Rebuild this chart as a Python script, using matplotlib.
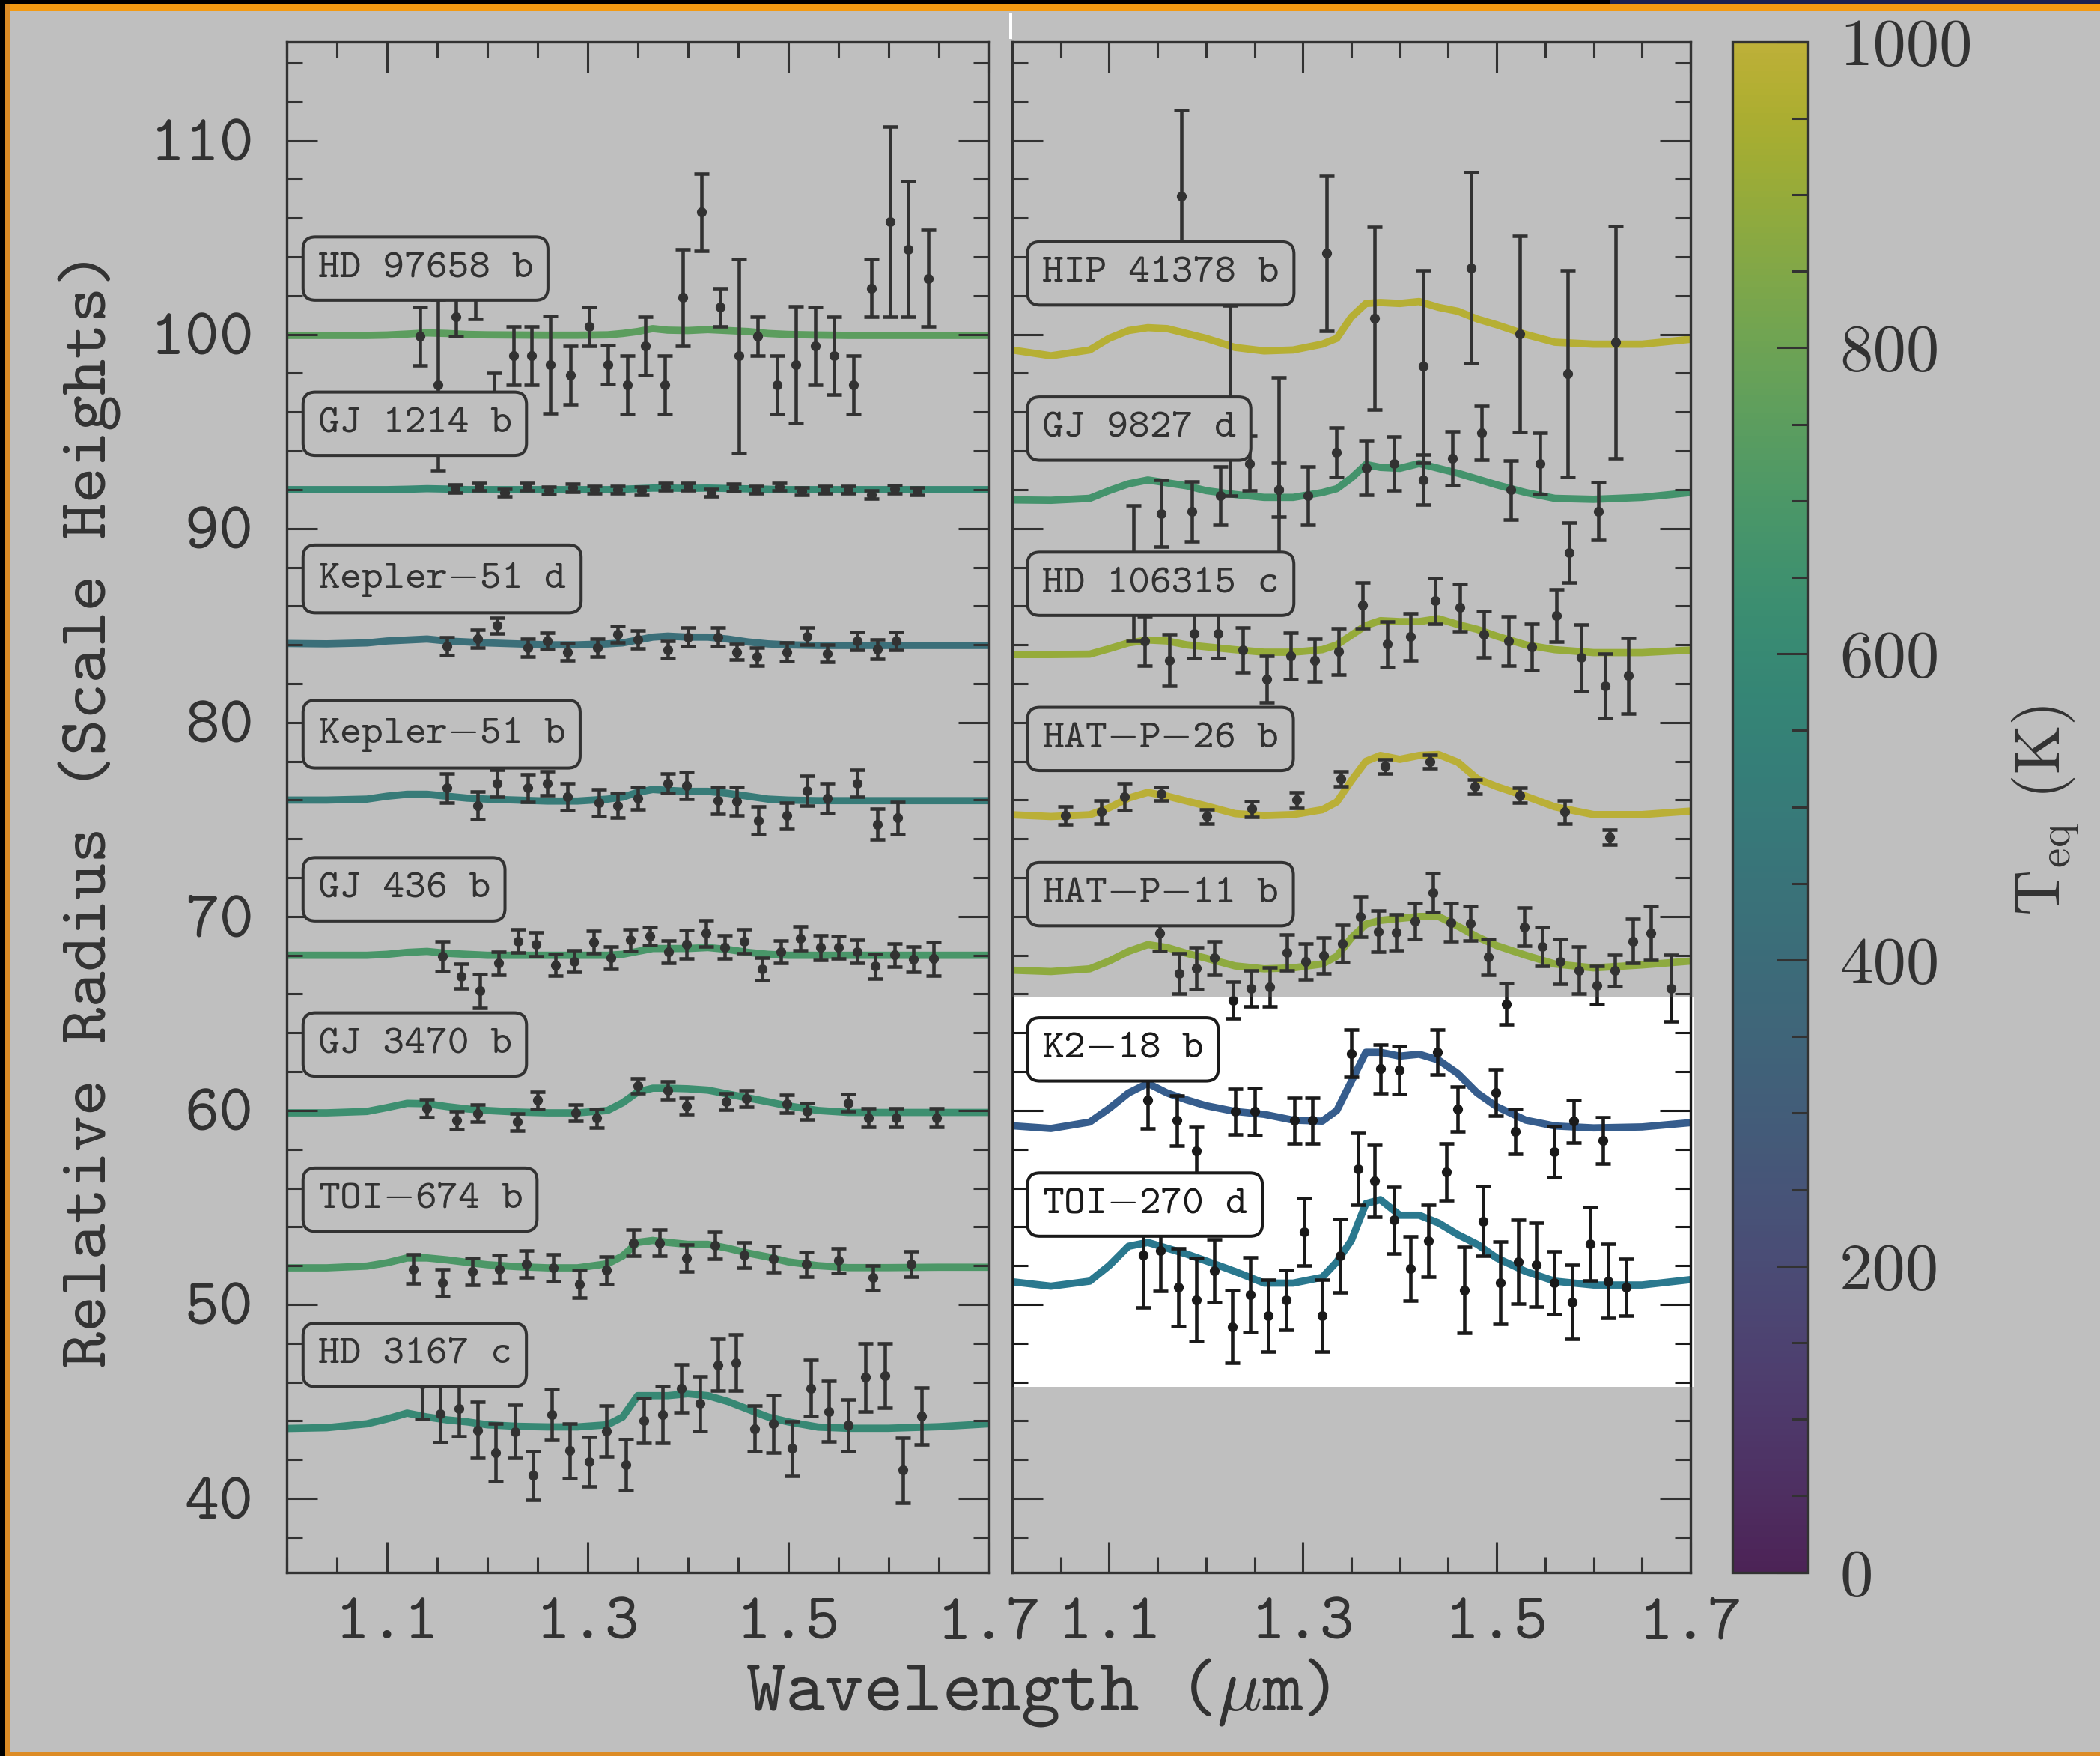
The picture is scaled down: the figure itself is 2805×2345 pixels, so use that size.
import matplotlib
matplotlib.use("Agg")
import matplotlib.pyplot as plt
from matplotlib.patches import Rectangle
from matplotlib.colors import Normalize
from matplotlib.ticker import MultipleLocator, FixedLocator, FormatStrFormatter

# ---------------------------------------------------------------- data
# common wavelength grid (micron) of the model transmission spectra
MODEL_WL = [1.00, 1.04, 1.08, 1.10, 1.12, 1.14, 1.16, 1.18, 1.20, 1.23, 1.26, 1.29,
            1.32, 1.335, 1.35, 1.365, 1.38, 1.40, 1.42, 1.44, 1.46, 1.48, 1.50,
            1.53, 1.56, 1.60, 1.65, 1.70]

# left column ---------------------------------------------------------
HD97658_MODEL = [99.95, 99.95, 99.95, 99.97, 100.02, 100.08, 100.05, 100.0, 99.98, 99.97,
                 99.96, 99.96, 99.98, 100.05, 100.15, 100.3, 100.22, 100.2, 100.25, 100.2,
                 100.15, 100.05, 100.0, 99.97, 99.95, 99.95, 99.95, 99.95]
HD97658_WL = [1.133, 1.151, 1.169, 1.188, 1.207, 1.226, 1.244, 1.263, 1.283, 1.302, 1.320,
              1.340, 1.358, 1.377, 1.395, 1.414, 1.432, 1.451, 1.470, 1.489, 1.508, 1.527,
              1.546, 1.565, 1.583, 1.602, 1.620, 1.640]
HD97658_R = [99.9, 97.4, 100.9, 102.3, 96.5, 98.9, 98.9, 98.45, 97.9, 100.4, 98.45, 97.4,
             99.4, 97.4, 101.9, 106.3, 101.4, 98.9, 99.9, 97.4, 98.45, 99.4, 98.9, 97.4,
             102.4, 105.8, 104.4, 102.9]
HD97658_ERR = [1.5, 4.4, 1.0, 1.5, 1.5, 1.5, 1.5, 2.5, 1.5, 1.0, 1.0, 1.5, 1.5, 1.5, 2.5,
               2.0, 1.0, 5.0, 1.0, 1.5, 3.0, 2.0, 2.0, 1.5, 1.5, 4.9, 3.5, 2.5]

GJ1214_MODEL = [92.0, 92.0, 92.0, 92.0, 92.02, 92.05, 92.03, 92.0, 92.0, 92.0, 92.0, 92.0,
                92.0, 92.02, 92.05, 92.08, 92.08, 92.07, 92.08, 92.06, 92.04, 92.02, 92.0,
                92.0, 92.0, 92.0, 92.0, 92.0]
GJ1214_WL = [1.168, 1.192, 1.217, 1.240, 1.261, 1.285, 1.307, 1.330, 1.354, 1.378, 1.400,
             1.423, 1.446, 1.468, 1.491, 1.514, 1.537, 1.560, 1.583, 1.606, 1.629]
GJ1214_R = [92.06, 92.16, 91.84, 92.16, 91.97, 92.1, 92.0, 92.0, 91.94, 92.16, 92.16, 91.84,
            92.12, 92.0, 92.16, 91.91, 92.0, 92.0, 91.74, 92.02, 91.91]
GJ1214_ERR = [0.2, 0.2, 0.2, 0.2, 0.2, 0.2, 0.2, 0.2, 0.2, 0.2, 0.2, 0.2, 0.2, 0.2, 0.2,
              0.2, 0.2, 0.2, 0.2, 0.2, 0.2]

KEP51D_MODEL = [84.07, 84.05, 84.1, 84.2, 84.25, 84.3, 84.2, 84.15, 84.1, 84.05, 84.0, 84.0,
                84.05, 84.1, 84.25, 84.4, 84.45, 84.4, 84.4, 84.3, 84.15, 84.05, 84.0, 83.97,
                83.97, 83.97, 83.97, 83.97]
KEP51D_WL = [1.160, 1.1905, 1.2096, 1.2405, 1.2595, 1.280, 1.310, 1.330, 1.350, 1.380, 1.400,
             1.430, 1.449, 1.469, 1.499, 1.519, 1.539, 1.569, 1.589, 1.608]
KEP51D_R = [83.94, 84.32, 85.0, 83.85, 84.2, 83.64, 83.85, 84.54, 84.28, 83.75, 84.41, 84.41,
            83.64, 83.39, 83.64, 84.45, 83.55, 84.2, 83.77, 84.2]
KEP51D_ERR = [0.46, 0.45, 0.4, 0.47, 0.44, 0.45, 0.46, 0.42, 0.46, 0.45, 0.47, 0.49, 0.42,
              0.47, 0.48, 0.44, 0.45, 0.47, 0.5, 0.47]

KEP51B_MODEL = [76.0, 76.0, 76.05, 76.2, 76.3, 76.3, 76.2, 76.1, 76.05, 76.0, 75.95, 75.95,
                76.05, 76.15, 76.4, 76.55, 76.5, 76.45, 76.45, 76.35, 76.2, 76.05, 76.0,
                75.97, 75.97, 75.97, 75.97, 75.97]
KEP51B_WL = [1.160, 1.1905, 1.210, 1.2405, 1.2595, 1.280, 1.311, 1.330, 1.350, 1.380, 1.399,
             1.430, 1.449, 1.4704, 1.499, 1.5187, 1.5393, 1.569, 1.5893, 1.609]
KEP51B_R = [76.62, 75.72, 76.87, 76.62, 76.87, 76.17, 75.85, 75.72, 76.1, 76.87, 76.74, 75.97,
            75.94, 74.95, 75.2, 76.49, 76.1, 76.87, 74.76, 75.08]
KEP51B_ERR = [0.74, 0.71, 0.71, 0.71, 0.62, 0.71, 0.69, 0.64, 0.59, 0.51, 0.69, 0.69, 0.72,
              0.71, 0.67, 0.77, 0.78, 0.71, 0.78, 0.82]

GJ436_MODEL = [68.0, 68.0, 68.0, 68.05, 68.15, 68.2, 68.1, 68.05, 68.0, 68.0, 68.0, 68.0,
               68.0, 68.05, 68.2, 68.35, 68.35, 68.35, 68.4, 68.3, 68.15, 68.05, 68.0, 68.0,
               68.0, 68.0, 68.0, 68.0]
GJ436_WL = [1.155, 1.174, 1.193, 1.211, 1.231, 1.249, 1.268, 1.287, 1.306, 1.323, 1.343,
            1.362, 1.381, 1.399, 1.418, 1.437, 1.456, 1.474, 1.493, 1.512, 1.532, 1.550,
            1.569, 1.587, 1.606, 1.625, 1.645]
GJ436_R = [67.95, 66.92, 66.17, 67.59, 68.74, 68.56, 67.5, 67.69, 68.69, 67.88, 68.78, 69.0,
           68.18, 68.56, 69.13, 68.43, 68.72, 67.3, 68.18, 68.87, 68.4, 68.4, 68.2, 67.43,
           68.01, 67.79, 67.82]
GJ436_ERR = [0.78, 0.63, 0.87, 0.6, 0.58, 0.61, 0.56, 0.56, 0.57, 0.58, 0.57, 0.47, 0.59,
             0.74, 0.69, 0.61, 0.61, 0.58, 0.59, 0.61, 0.64, 0.58, 0.6, 0.62, 0.59, 0.67,
             0.87]

GJ3470_MODEL = [59.88, 59.88, 59.95, 60.15, 60.37, 60.35, 60.2, 60.08, 60.0, 59.92, 59.88,
                59.88, 60.0, 60.4, 60.95, 61.15, 61.15, 61.12, 61.05, 60.85, 60.65, 60.45,
                60.24, 60.0, 59.9, 59.9, 59.9, 59.9]
GJ3470_WL = [1.1396, 1.1696, 1.1905, 1.230, 1.250, 1.288, 1.309, 1.350, 1.380, 1.399, 1.4385,
             1.4584, 1.499, 1.5187, 1.5597, 1.580, 1.608, 1.648]
GJ3470_R = [60.11, 59.5, 59.85, 59.4, 60.52, 59.88, 59.6, 61.27, 61.04, 60.24, 60.47, 60.62,
            60.34, 59.96, 60.39, 59.63, 59.63, 59.63]
GJ3470_ERR = [0.47, 0.47, 0.45, 0.46, 0.45, 0.43, 0.48, 0.4, 0.45, 0.43, 0.43, 0.43, 0.45,
              0.42, 0.45, 0.48, 0.48, 0.48]

TOI674_MODEL = [51.89, 51.89, 51.98, 52.15, 52.4, 52.4, 52.3, 52.17, 52.05, 51.95, 51.89,
                51.89, 52.1, 52.5, 53.2, 53.3, 53.2, 53.1, 53.1, 52.9, 52.65, 52.45, 52.2,
                52.0, 51.9, 51.9, 51.92, 51.92]
TOI674_WL = [1.1263, 1.1552, 1.1848, 1.212, 1.2386, 1.2657, 1.292, 1.319, 1.3455, 1.3718,
             1.399, 1.4268, 1.456, 1.4856, 1.518, 1.5503, 1.5846, 1.6226]
TOI674_R = [51.83, 51.12, 51.7, 51.83, 52.08, 51.89, 51.06, 51.76, 53.18, 53.18, 52.4, 53.05,
            52.56, 52.34, 52.08, 52.27, 51.38, 52.08]
TOI674_ERR = [0.74, 0.71, 0.71, 0.71, 0.69, 0.71, 0.71, 0.71, 0.67, 0.67, 0.69, 0.69, 0.66,
              0.68, 0.64, 0.63, 0.64, 0.67]

HD3167_MODEL = [43.61, 43.65, 43.85, 44.1, 44.4, 44.2, 44.05, 43.95, 43.8, 43.72, 43.69,
                43.69, 43.8, 44.2, 45.3, 45.3, 45.3, 45.4, 45.3, 45.0, 44.6, 44.2, 43.95,
                43.68, 43.62, 43.62, 43.7, 43.85]
HD3167_WL = [1.1348, 1.1529, 1.1715, 1.1905, 1.2086, 1.2276, 1.2457, 1.2643, 1.2824, 1.3014,
             1.319, 1.3381, 1.3561, 1.3751, 1.3933, 1.4123, 1.4299, 1.448, 1.467, 1.4856,
             1.5037, 1.5227, 1.5408, 1.5599, 1.5775, 1.5965, 1.6146, 1.6331]
HD3167_R = [45.9, 44.38, 44.65, 43.53, 42.37, 43.45, 41.18, 44.33, 42.46, 41.89, 43.48, 41.73,
            44.0, 44.33, 45.69, 44.89, 46.89, 47.0, 43.61, 43.85, 42.57, 45.69, 44.49, 43.77,
            46.25, 46.33, 41.46, 44.25]
HD3167_ERR = [1.8, 1.49, 1.44, 1.44, 1.48, 1.36, 1.25, 1.3, 1.4, 1.26, 1.32, 1.31, 1.16, 1.46,
              1.24, 1.4, 1.32, 1.45, 1.16, 1.48, 1.41, 1.44, 1.57, 1.33, 1.76, 1.65, 1.68,
              1.48]

# right column --------------------------------------------------------
HIP41378_MODEL = [99.2, 98.9, 99.2, 99.8, 100.2, 100.35, 100.3, 100.05, 99.8, 99.33, 99.15,
                  99.2, 99.5, 99.8, 100.9, 101.6, 101.65, 101.6, 101.7, 101.4, 101.2, 100.8,
                  100.5, 100.0, 99.6, 99.5, 99.5, 99.75]
HIP41378_WL = [1.1747, 1.2247, 1.2747, 1.3243, 1.3743, 1.424, 1.474, 1.5235, 1.5736, 1.6231]
HIP41378_R = [107.13, 96.6, 92.0, 104.18, 100.83, 98.35, 103.44, 100.02, 97.98, 99.6]
HIP41378_ERR = [4.44, 4.9, 5.8, 3.98, 4.7, 4.95, 4.93, 5.06, 5.31, 6.0]

GJ9827_MODEL = [91.47, 91.45, 91.55, 91.95, 92.3, 92.5, 92.35, 92.2, 91.95, 91.75, 91.6,
                91.6, 91.85, 92.05, 92.6, 93.3, 93.15, 93.1, 93.35, 93.1, 92.85, 92.55,
                92.25, 91.85, 91.55, 91.5, 91.6, 91.85]
GJ9827_WL = [1.1251, 1.1538, 1.1853, 1.2145, 1.2446, 1.2747, 1.3049, 1.3345, 1.3651, 1.3938,
             1.424, 1.454, 1.4842, 1.5143, 1.5444, 1.5745, 1.6046]
GJ9827_R = [87.7, 90.78, 90.89, 91.7, 93.36, 91.98, 91.7, 93.94, 93.13, 93.36, 92.51, 93.6,
            94.93, 91.98, 93.36, 88.74, 90.89]
GJ9827_ERR = [3.5, 1.7, 1.54, 1.5, 1.41, 1.39, 1.5, 1.27, 1.41, 1.39, 1.3, 1.39, 1.39, 1.54,
              1.59, 1.54, 1.48]

HD106315_MODEL = [83.5, 83.5, 83.52, 83.8, 84.1, 84.25, 84.2, 84.0, 83.9, 83.75, 83.62,
                  83.62, 83.75, 84.0, 84.5, 85.0, 85.25, 85.2, 85.2, 85.35, 85.05, 84.8,
                  84.45, 84.0, 83.75, 83.6, 83.6, 83.73]
HD106315_WL = [1.1367, 1.1621, 1.1876, 1.2122, 1.2377, 1.2627, 1.2873, 1.3118, 1.3368, 1.3614,
               1.3869, 1.4114, 1.4364, 1.4619, 1.4865, 1.512, 1.5365, 1.5615, 1.587, 1.6116,
               1.6361]
HD106315_R = [84.19, 83.2, 84.58, 84.58, 83.73, 82.23, 83.43, 83.2, 83.66, 86.04, 84.03,
              84.42, 86.27, 85.92, 84.54, 84.19, 83.89, 85.51, 83.34, 81.88, 82.41]
HD106315_ERR = [1.27, 1.33, 1.25, 1.25, 1.16, 1.18, 1.2, 1.1, 1.18, 1.19, 1.19, 1.21, 1.19,
                1.21, 1.2, 1.27, 1.21, 1.36, 1.71, 1.65, 1.96]

HATP26_MODEL = [75.24, 75.15, 75.24, 75.6, 76.1, 76.4, 76.2, 75.95, 75.7, 75.3, 75.2, 75.25,
                75.5, 75.9, 77.0, 78.0, 78.3, 78.1, 78.3, 78.35, 77.95, 77.1, 76.7, 76.2,
                75.65, 75.25, 75.25, 75.43]
HATP26_WL = [1.0547, 1.0917, 1.1158, 1.1538, 1.2006, 1.2469, 1.2933, 1.3391, 1.3846, 1.4308,
             1.4772, 1.5235, 1.5699, 1.6162]
HATP26_R = [75.2, 75.38, 76.17, 76.31, 75.15, 75.54, 76.0, 77.09, 77.74, 77.97, 76.7, 76.24,
            75.38, 74.09]
HATP26_ERR = [0.46, 0.6, 0.7, 0.35, 0.35, 0.4, 0.4, 0.38, 0.38, 0.35, 0.37, 0.39, 0.58, 0.38]

HATP11_MODEL = [67.23, 67.16, 67.3, 67.7, 68.2, 68.55, 68.4, 68.1, 67.85, 67.45, 67.3, 67.35,
                67.55, 67.95, 68.9, 69.6, 69.8, 69.9, 70.0, 70.0, 69.5, 68.95, 68.5, 68.0,
                67.55, 67.35, 67.5, 67.7]
HATP11_WL = [1.1519, 1.1723, 1.19, 1.2085, 1.228, 1.2465, 1.2655, 1.2835, 1.3026, 1.3211,
             1.3405, 1.359, 1.3776, 1.3961, 1.4156, 1.4345, 1.453, 1.4726, 1.4911, 1.5097,
             1.5281, 1.5467, 1.5652, 1.5847, 1.6032, 1.6217, 1.6407, 1.6593, 1.6801]
HATP11_R = [69.14, 67.06, 67.34, 67.87, 65.68, 66.3, 66.37, 68.15, 67.69, 67.99, 68.61, 70.0,
            69.24, 69.19, 69.77, 71.22, 69.7, 69.65, 67.92, 65.49, 69.47, 68.45, 67.69, 67.23,
            66.46, 67.23, 68.73, 69.14, 66.3]
HATP11_ERR = [0.92, 1.04, 1.07, 0.87, 0.95, 0.92, 1.0, 0.92, 0.92, 0.92, 0.96, 1.04, 1.06,
              0.92, 0.92, 1.0, 0.98, 0.9, 0.92, 1.07, 0.98, 0.99, 1.16, 1.21, 1.0, 0.81, 1.13,
              1.39, 1.71]

K218_MODEL = [59.21, 59.07, 59.4, 60.1, 60.9, 61.4, 60.9, 60.55, 60.25, 59.95, 59.8, 59.5,
              59.45, 60.0, 61.5, 63.0, 63.0, 62.8, 62.9, 62.6, 61.9, 60.9, 60.2, 59.5, 59.2,
              59.1, 59.15, 59.37]
K218_WL = [1.1399, 1.17, 1.19, 1.2303, 1.2502, 1.291, 1.3095, 1.3498, 1.3799, 1.3994, 1.4392,
           1.4596, 1.4995, 1.519, 1.5597, 1.5791, 1.6093]
K218_R = [60.52, 59.48, 57.91, 59.95, 59.95, 59.48, 59.48, 62.95, 62.14, 62.07, 63.0, 60.06,
          60.92, 58.91, 57.87, 59.44, 58.45]
K218_ERR = [1.45, 1.3, 1.25, 1.18, 1.21, 1.18, 1.18, 1.21, 1.27, 1.24, 1.16, 1.16, 1.19, 1.16,
            1.3, 1.1, 1.21]

TOI270_MODEL = [51.17, 50.94, 51.2, 52.0, 53.0, 53.2, 52.9, 52.6, 52.25, 51.7, 51.1, 51.1,
                51.4, 52.2, 53.3, 55.2, 55.4, 54.6, 54.6, 54.2, 53.6, 53.1, 52.4, 51.7, 51.2,
                51.0, 51.0, 51.28]
TOI270_WL = [1.1353, 1.1529, 1.1714, 1.19, 1.2085, 1.227, 1.2455, 1.2641, 1.2826, 1.3012,
             1.3197, 1.3382, 1.3567, 1.3743, 1.3938, 1.4114, 1.4299, 1.4485, 1.467, 1.4856,
             1.5041, 1.5226, 1.5411, 1.5597, 1.5782, 1.5968, 1.6153, 1.6338]
TOI270_R = [52.55, 52.78, 50.89, 50.24, 51.75, 48.86, 50.52, 49.43, 50.24, 53.75, 49.43, 52.51,
            56.99, 56.37, 54.35, 51.86, 53.29, 56.83, 50.75, 54.29, 51.12, 52.2, 52.04, 51.12,
            50.13, 53.13, 51.21, 50.89]
TOI270_ERR = [2.7, 2.1, 2.02, 2.14, 1.62, 1.88, 1.93, 1.85, 1.54, 1.73, 1.85, 1.88, 1.85, 1.85,
              1.71, 1.65, 1.85, 1.46, 2.22, 1.79, 2.14, 2.15, 2.16, 1.62, 1.92, 1.88, 1.91,
              1.47]

# planet names, equilibrium temperatures (K) and vertical offsets
LEFT_NAMES = ["HD 97658 b", "GJ 1214 b", "Kepler$-$51 d", "Kepler$-$51 b",
              "GJ 436 b", "GJ 3470 b", "TOI$-$674 b", "HD 3167 c"]
LEFT_TEQ = [750, 600, 420, 500, 690, 640, 700, 590]
LEFT_OFFSET = [100, 92, 84, 76, 68, 60, 52, 44]

RIGHT_NAMES = ["HIP 41378 b", "GJ 9827 d", "HD 106315 c", "HAT$-$P$-$26 b",
               "HAT$-$P$-$11 b", "K2$-$18 b", "TOI$-$270 d"]
RIGHT_TEQ = [980, 670, 900, 990, 880, 290, 400]
RIGHT_OFFSET = [100, 92, 84, 76, 68, 60, 52]

X_TICKS = [1.1, 1.3, 1.5, 1.7]
CBAR_TICKS = [0, 200, 400, 600, 800, 1000]

# ---------------------------------------------------------------- style
W, H, DPI = 2805, 2345, 100
DARK = "#1a1a1a"
TT = ["cmtt10", "DejaVu Sans Mono"]

plt.rcParams["font.family"] = TT
plt.rcParams["mathtext.fontset"] = "cm"
plt.rcParams["axes.unicode_minus"] = False

cmap = plt.get_cmap("viridis")
norm = Normalize(vmin=0, vmax=1000)


def fx(px):
    return px / W


def fy(py):
    return 1.0 - py / H


fig = plt.figure(figsize=(W / DPI, H / DPI), dpi=DPI, facecolor="white")

AX_TOP, AX_BOT = 55.5, 2099.5
ax_l = fig.add_axes([fx(383), fy(AX_BOT), (1320.5 - 383) / W, (AX_BOT - AX_TOP) / H])
ax_r = fig.add_axes([fx(1352), fy(AX_BOT), (2258 - 1352) / W, (AX_BOT - AX_TOP) / H])
cax = fig.add_axes([fx(2314), fy(AX_BOT), 100 / W, (AX_BOT - AX_TOP) / H])

left_sets = [
    (HD97658_MODEL, HD97658_WL, HD97658_R, HD97658_ERR),
    (GJ1214_MODEL, GJ1214_WL, GJ1214_R, GJ1214_ERR),
    (KEP51D_MODEL, KEP51D_WL, KEP51D_R, KEP51D_ERR),
    (KEP51B_MODEL, KEP51B_WL, KEP51B_R, KEP51B_ERR),
    (GJ436_MODEL, GJ436_WL, GJ436_R, GJ436_ERR),
    (GJ3470_MODEL, GJ3470_WL, GJ3470_R, GJ3470_ERR),
    (TOI674_MODEL, TOI674_WL, TOI674_R, TOI674_ERR),
    (HD3167_MODEL, HD3167_WL, HD3167_R, HD3167_ERR),
]
right_sets = [
    (HIP41378_MODEL, HIP41378_WL, HIP41378_R, HIP41378_ERR),
    (GJ9827_MODEL, GJ9827_WL, GJ9827_R, GJ9827_ERR),
    (HD106315_MODEL, HD106315_WL, HD106315_R, HD106315_ERR),
    (HATP26_MODEL, HATP26_WL, HATP26_R, HATP26_ERR),
    (HATP11_MODEL, HATP11_WL, HATP11_R, HATP11_ERR),
    (K218_MODEL, K218_WL, K218_R, K218_ERR),
    (TOI270_MODEL, TOI270_WL, TOI270_R, TOI270_ERR),
]


def draw_panel(ax, sets, names, teqs, offsets, label_dy):
    for (model, wl, r, err), name, teq, off in zip(sets, names, teqs, offsets):
        ax.plot(MODEL_WL, model, color=cmap(norm(teq)), lw=7, zorder=1,
                solid_joinstyle="round", solid_capstyle="butt")
        ax.errorbar(wl, r, yerr=err, fmt="o", ms=8.5, color=DARK, ecolor=DARK,
                    elinewidth=3.3, capsize=7.5, capthick=3.3, zorder=3)
        ax.text(1.031, off + label_dy, name, fontsize=39.5, family=TT, color=DARK,
                ha="left", va="center", zorder=6,
                bbox=dict(boxstyle="round,pad=0.36,rounding_size=0.3",
                          facecolor="white", edgecolor=DARK, linewidth=2.9))

    ax.set_xlim(1.0, 1.7)
    ax.set_ylim(36.2, 115.1)
    ax.set_facecolor("white")
    ax.xaxis.set_major_locator(FixedLocator(X_TICKS))
    ax.xaxis.set_minor_locator(MultipleLocator(0.05))
    ax.xaxis.set_major_formatter(FormatStrFormatter("%.1f"))
    ax.yaxis.set_major_locator(MultipleLocator(10))
    ax.yaxis.set_minor_locator(MultipleLocator(2))
    ax.tick_params(which="both", direction="in", top=True, right=True,
                   width=2.2, color=DARK, labelcolor=DARK)
    ax.tick_params(which="major", length=29.5)
    ax.tick_params(which="minor", length=14.8)
    ax.tick_params(axis="x", which="major", labelsize=63, pad=25)
    ax.tick_params(axis="y", which="major", labelsize=63, pad=32)
    for sp in ax.spines.values():
        sp.set_linewidth(2.4)
        sp.set_color(DARK)


draw_panel(ax_l, left_sets, LEFT_NAMES, LEFT_TEQ, LEFT_OFFSET, 3.4)
draw_panel(ax_r, right_sets, RIGHT_NAMES, RIGHT_TEQ, RIGHT_OFFSET, 3.15)
ax_r.tick_params(axis="y", labelleft=False)

# colour bar of equilibrium temperature
sm = plt.cm.ScalarMappable(norm=norm, cmap=cmap)
cb = fig.colorbar(sm, cax=cax)
cb.outline.set_linewidth(2.4)
cb.outline.set_edgecolor(DARK)
cb.set_ticks(CBAR_TICKS)
cax.yaxis.set_minor_locator(MultipleLocator(50))
cax.yaxis.set_ticks_position("right")
cax.tick_params(which="both", direction="in", right=True, left=False, width=2.2,
                color=DARK, labelcolor=DARK, labelsize=64, pad=31,
                labelfontfamily="cmr10")
cax.tick_params(which="major", length=29.5)
cax.tick_params(which="minor", length=14.8)

fig.text(fx(2733), fy(1082), r"T$_{\rm eq}$ (K)", rotation=90, ha="center", va="center",
         fontsize=61, family=["cmr10", "DejaVu Serif"], color=DARK)
fig.text(fx(1386), fy(2283), r"Wavelength ($\mu$m)", ha="center", va="baseline",
         fontsize=72, family=TT, color=DARK)
fig.text(fx(120), fy(1080), "Relative Radius (Scale Heights)", rotation=90,
         ha="center", va="center", fontsize=66, family=TT, color=DARK)

# grey veil dimming everything except the highlighted block of the right panel
HL_X0, HL_X1, HL_Y0, HL_Y1 = 1352, 2263, 1331, 1852
veil = [(0, 0, W, HL_Y0), (0, HL_Y1, W, H), (0, HL_Y0, HL_X0, HL_Y1), (HL_X1, HL_Y0, W, HL_Y1)]
for x0, y0, x1, y1 in veil:
    fig.add_artist(Rectangle((fx(x0), fy(y1)), (x1 - x0) / W, (y1 - y0) / H,
                             transform=fig.transFigure, facecolor="#5a5a5a", alpha=0.388,
                             edgecolor="none", antialiased=False, zorder=50))

# slide frame
frame = [((0, 0, W, 5), "black"), ((0, 0, 7, H), "black"), ((2150, 0, W, 5), "#1b2150"),
         ((7, 5, W, 15), "#f39a12"), ((7, 5, 13, H), "#dc8c26"),
         ((7, 2339, W, H), "#dc8c26"), ((1348, 17, 1352, 52), "white")]
for (x0, y0, x1, y1), col in frame:
    fig.add_artist(Rectangle((fx(x0), fy(y1)), (x1 - x0) / W, (y1 - y0) / H,
                             transform=fig.transFigure, facecolor=col, edgecolor="none",
                             antialiased=False, zorder=60))

fig.savefig("out.png", dpi=DPI, facecolor="white")
